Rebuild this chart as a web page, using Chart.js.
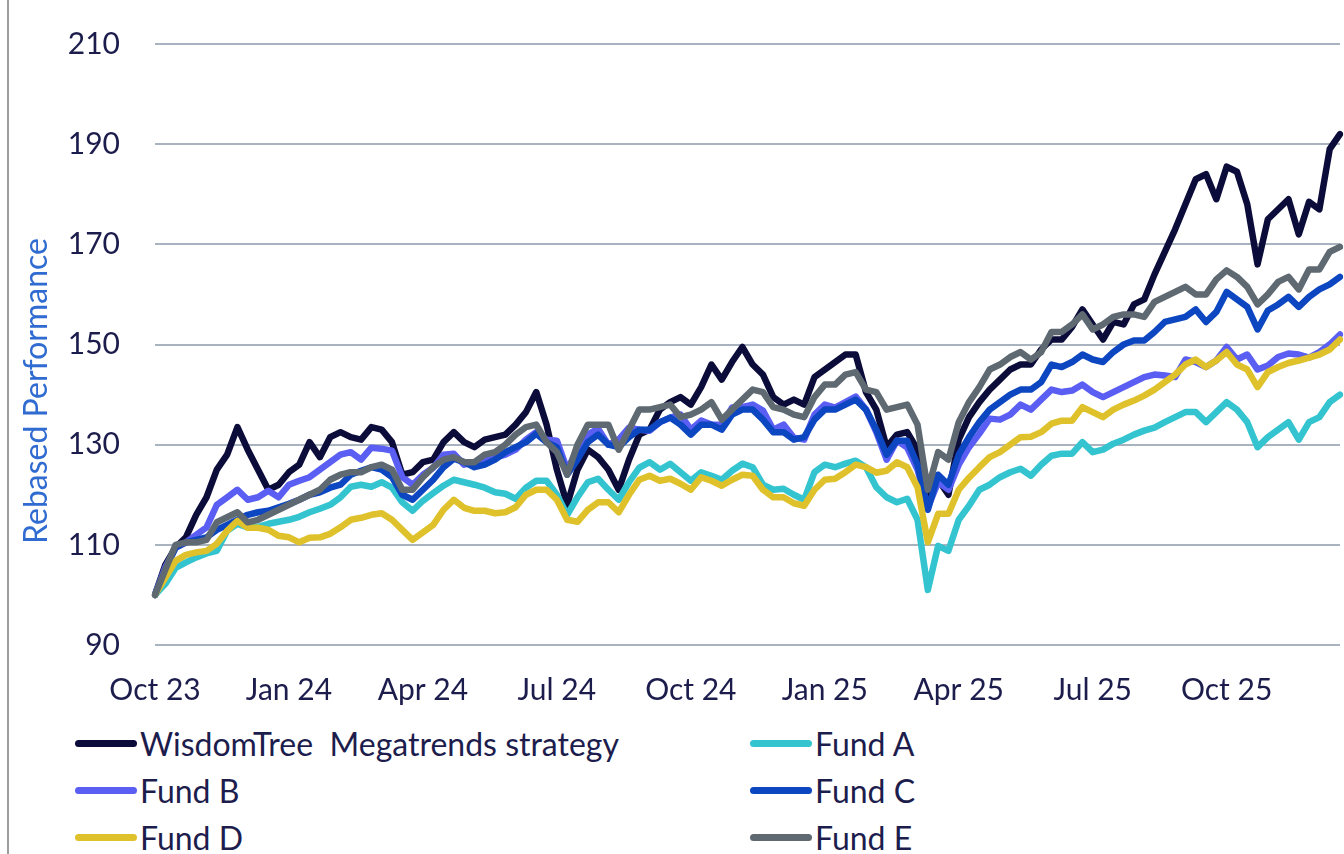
<!DOCTYPE html>
<html>
<head>
<meta charset="utf-8">
<title>Rebased Performance</title>
<script src="https://cdn.jsdelivr.net/npm/chart.js"></script>
<style>
body{margin:0;background:#fff;}
#frame{position:relative;width:1344px;height:854px;overflow:hidden;background:#fff;}
#frame:before{content:"";position:absolute;left:7px;top:0;width:2px;height:854px;background:#9c9c9c;}
#chartBox{position:absolute;left:0;top:0;width:1344px;height:720px;}
#legend{position:absolute;left:75px;top:720px;display:grid;grid-template-columns:675px 400px;grid-auto-rows:47px;font-family:Lato,"Open Sans",sans-serif;font-size:32px;color:#1d1d4d;}
.item{display:flex;align-items:center;white-space:pre;}
.swatch{width:62px;height:7px;border-radius:4px;margin-right:3px;}
</style>
</head>
<body>
<div id="frame">
  <div id="chartBox"><canvas id="mycanvas"></canvas></div>
  <div id="legend"></div>
</div>
<script>
// weekly points, Oct 23 -> Dec 25 (rebased to 100)
var quarterLabels = ["Oct 23","Jan 24","Apr 24","Jul 24","Oct 24","Jan 25","Apr 25","Jul 25","Oct 25"];
var weeksPerQuarter = 13;

var wisdomTree = [100,106,109.5,111.5,116,119.5,125,128,133.5,129,
  125,121,122,124.5,126,130.5,127.5,131.5,132.5,131.5,
  131,133.5,133,130.5,124,124.5,126.5,127,130.5,132.5,
  130.5,129.5,131,131.5,132,134,136.5,140.5,134,125,
  118,125,129,127.5,125,121,127,132,133,137,
  138.5,139.5,138,141.5,146,143,146.5,149.5,146,144,
  139.5,138,139,138,143.5,145,146.5,148,148,140.5,
  137,129.5,132,132.5,129,119,123,120,131,135.5,
  138.5,141,143,145,146,146,149,151,151,153.5,
  157,154,151,154.5,154,158,159,164,168.5,173,
  178,183,184,179,185.5,184.5,178,166,175,177,
  179,172,178.5,177,189,192];

var fundA = [100,102.2,105.4,106.5,107.5,108.3,108.8,112.8,114.2,113.5,
  113.6,114.2,114.6,115,115.6,116.5,117.2,118,119.5,121.6,
  122,121.6,122.5,121.4,118.5,116.8,118.8,120.3,121.8,123,
  122.5,122,121.4,120.5,120.2,119.2,121.4,122.8,122.8,120,
  116,119.5,122.5,123.2,121,119,122.5,125.4,126.5,125,
  126.2,124.5,122.8,124.5,123.8,123,124.8,126.2,125.5,122,
  121,121.2,120,119,124.5,126,125.5,126.2,126.8,125.5,
  121.5,119.5,118.5,119.2,115,101,109.8,108.8,115,117.8,
  121,122,123.5,124.5,125.2,123.8,126,127.8,128.2,128.2,
  130.5,128.5,129,130.2,131,132,132.8,133.4,134.5,135.5,
  136.5,136.5,134.5,136.5,138.5,137,134.5,129.5,131.5,133,
  134.5,131,134.5,135.5,138.5,140];

var fundB = [100,105.5,109.4,110.5,112,113.5,118,119.5,121,119,
  119.5,120.8,119.5,122,122.8,123.5,125,126.5,128,128.5,
  127,129.4,129.2,128.8,123.5,122,124,125.4,128,128.2,
  126,126.5,127,127.4,128,129,131,132.5,131,130.8,
  125,129,132,133.2,130,131,133.4,133,132.8,134.5,
  135.4,136,133,134.8,134,134,137.4,137.5,138,136.8,
  133,134,131.4,131,136,138,137.4,138.5,139.6,137,
  132.5,127,130.8,129.4,125,117.5,122.5,121,126,129.5,
  132.2,135.2,135,136,138,137,139,141,140.5,140.8,
  142,140.5,139.5,140.5,141.5,142.5,143.5,144,143.8,143.5,
  147,146.5,145.5,146.8,149.5,147,148,145,145.8,147.5,
  148.2,148,147.4,148.5,150,152];

var fundC = [100,105,109.5,110.5,111,111.5,113,114,115,116,
  116.5,116.8,117.5,118.2,119,120,120.5,121.4,122,124,
  124.8,125.5,125,123.5,120,119,121,123,125.5,127.2,
  126.5,125.5,126,127,128.5,129.5,130.5,132.2,130.5,129.5,
  124,127,130.5,132,130,129.5,131.5,133,133,134.5,
  135.4,134,132,134,134,133,136,137,137,135,
  132.5,132.5,131,131.5,135,137,137,138,139,137,
  133,128,130.8,130.8,126,117,124,122,128,131.5,
  134.5,137,138.5,140,141,141,142.5,146,145.5,146.5,
  148,147,146.5,148.5,150,150.8,150.8,152.5,154.5,155,
  155.5,157,154.5,156.5,160.5,159,157.5,153,156.8,158,
  159.5,157.5,159.5,161,162,163.5];

var fundD = [100,103.4,106.8,108,108.5,108.8,110.2,112.8,114.8,113.4,
  113.4,113,111.8,111.5,110.5,111.4,111.5,112.2,113.5,115,
  115.4,116,116.3,115,113,111,112.5,114,117,119,
  117.4,116.8,116.8,116.3,116.5,117.5,120,121,121,119,
  115,114.6,117,118.5,118.5,116.5,120,123,123.8,122.8,
  123.2,122.2,121,123.5,122.8,121.8,123,124,123.8,121,
  119.5,119.5,118.3,117.8,121,123,123.2,124.5,126,125.5,
  124.4,124.8,126.5,125.5,121.5,110.5,116.2,116.2,121,123.4,
  125.5,127.5,128.5,130,131.5,131.6,132.5,134.2,134.8,134.8,
  137.5,136.5,135.5,137,138,138.8,139.8,141,142.5,144,
  146,147,145.5,146.8,148.5,146,145,141.5,144.5,145.5,
  146.3,146.8,147.4,148,149,151];

var fundE = [100,105,110,110.5,110.5,111,114.5,115.5,116.5,114.5,
  115,116,117,118,119,120,121,123,124,124.5,
  124.5,125.5,126,125,121,121,123.5,125.5,127,127.5,
  126.5,126.5,128,128.5,130,132,133.5,134,130.5,128.5,
  124,130,134,134,134,129,133,137,137,137.5,
  138,135.5,136,137,138.5,135,137,139,141,140.5,
  137.5,137,136,135.5,139.5,142,142,144,144.5,141,
  140.5,137,137.5,138,134,121,128.5,127,134.5,138.5,
  141.5,145,146,147.5,148.5,147,148.5,152.5,152.5,154,
  156,153,154,155.5,156,156,155.5,158.5,159.5,160.5,
  161.5,160,160,163,164.8,163.5,161.5,158,160,162.5,
  163.5,161,165,165,168.5,169.5];

var weeks = [];
for (var i = 0; i < wisdomTree.length; i++) { weeks.push(i); }

var textColor = "#1d1d4d";

function line(label, values, color, order) {
  return {
    label: label,
    data: values,
    borderColor: color,
    backgroundColor: color,
    borderWidth: 6.5,
    pointRadius: 0,
    pointHoverRadius: 0,
    tension: 0,
    fill: false,
    borderJoinStyle: "round",
    borderCapStyle: "round",
    order: order
  };
}

var chartdata = {
  labels: weeks,
  datasets: [
    line("WisdomTree  Megatrends strategy", wisdomTree, "#0c0c3a", 6),
    line("Fund A", fundA, "#33c4d0", 5),
    line("Fund B", fundB, "#5a5ef2", 4),
    line("Fund C", fundC, "#0c46c0", 3),
    line("Fund D", fundD, "#dfc22b", 2),
    line("Fund E", fundE, "#5f6972", 1)
  ]
};

// rotated axis title, placed as in the original
var yTitle = {
  id: "yTitle",
  afterDraw: function(chart) {
    var ctx = chart.ctx;
    ctx.save();
    ctx.translate(37, 391);
    ctx.rotate(-Math.PI / 2);
    ctx.font = "32px Lato";
    ctx.fillStyle = "#2f6bd0";
    ctx.textAlign = "center";
    ctx.textBaseline = "middle";
    ctx.fillText("Rebased Performance", 0, 0);
    ctx.restore();
  }
};

var ctx = document.getElementById("mycanvas");
var LineGraph = new Chart(ctx, {
  type: "line",
  data: chartdata,
  plugins: [yTitle],
  options: {
    responsive: true,
    maintainAspectRatio: false,
    animation: false,
    layout: { padding: { left: 0, right: 4, top: 44, bottom: 0 } },
    plugins: { legend: { display: false }, tooltip: { enabled: false } },
    scales: {
      x: {
        grid: { display: false, drawTicks: false },
        border: { display: false },
        afterFit: function(s) {
          s.height = 75;
          s.paddingLeft = 0;
          s.paddingRight = 0;
        },
        ticks: {
          autoSkip: false,
          maxRotation: 0,
          padding: 27,
          color: textColor,
          font: { family: "Lato", size: 30 },
          callback: function(val, idx) {
            return idx % weeksPerQuarter === 0 ? quarterLabels[idx / weeksPerQuarter] : "";
          }
        }
      },
      y: {
        min: 90,
        max: 210,
        grid: { color: "#a9b3bf", lineWidth: 2, drawTicks: false },
        border: { display: false },
        afterFit: function(s) {
          s.width = 155;
          s.paddingTop = 0;
          s.paddingBottom = 0;
        },
        ticks: {
          stepSize: 20,
          padding: 35,
          color: textColor,
          font: { family: "Lato", size: 30 }
        }
      }
    }
  }
});

// two-column legend under the chart, built from the datasets
var legend = document.getElementById("legend");
chartdata.datasets.forEach(function(ds) {
  var item = document.createElement("div");
  item.className = "item";
  var sw = document.createElement("span");
  sw.className = "swatch";
  sw.style.background = ds.borderColor;
  var txt = document.createElement("span");
  txt.textContent = ds.label;
  item.appendChild(sw);
  item.appendChild(txt);
  legend.appendChild(item);
});
</script>
</body>
</html>
